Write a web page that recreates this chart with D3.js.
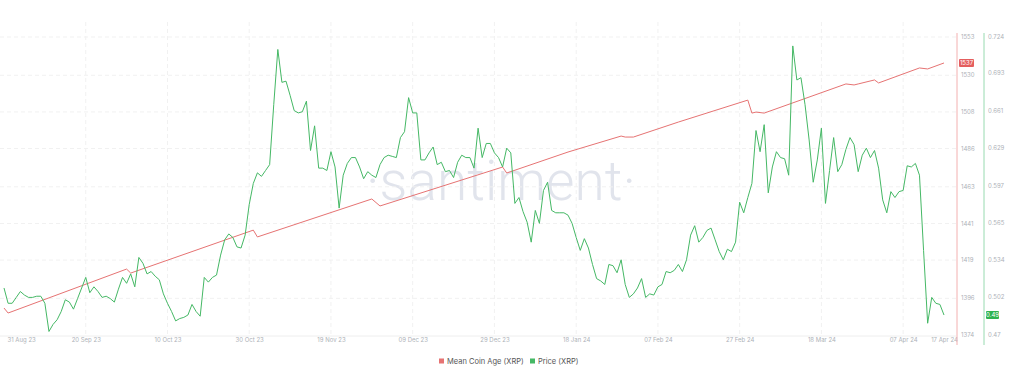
<!DOCTYPE html>
<html>
<head>
<meta charset="utf-8">
<script src="https://cdn.jsdelivr.net/npm/d3@7"></script>
<style>
  body { margin: 0; background: #fff; }
  svg { display: block; font-family: Inter, "Open Sans", sans-serif; }
</style>
</head>
<body>
<div id="chart"></div>
<script>
// daily XRP price, starting 31 Aug 23
var priceStart = '2023-08-31'
var priceValues = [
  0.510, 0.497, 0.497, 0.502, 0.507, 0.504, 0.502, 0.502, 0.503, 0.503,
  0.497, 0.473, 0.479, 0.483, 0.490, 0.500, 0.498, 0.492, 0.501, 0.510,
  0.519, 0.506, 0.511, 0.507, 0.502, 0.503, 0.501, 0.498, 0.509, 0.519,
  0.514, 0.522, 0.511, 0.536, 0.531, 0.522, 0.524, 0.520, 0.517, 0.505,
  0.497, 0.490, 0.482, 0.484, 0.485, 0.487, 0.496, 0.490, 0.486, 0.519,
  0.515, 0.519, 0.521, 0.538, 0.551, 0.556, 0.553, 0.545, 0.544, 0.555,
  0.581, 0.599, 0.608, 0.605, 0.610, 0.615, 0.666, 0.713, 0.685, 0.686,
  0.674, 0.661, 0.659, 0.660, 0.669, 0.627, 0.648, 0.612, 0.612, 0.610,
  0.626, 0.613, 0.578, 0.606, 0.616, 0.621, 0.621, 0.613, 0.603, 0.609,
  0.606, 0.604, 0.615, 0.621, 0.623, 0.622, 0.621, 0.638, 0.643, 0.672,
  0.659, 0.659, 0.619, 0.619, 0.625, 0.630, 0.615, 0.617, 0.609, 0.610,
  0.604, 0.617, 0.623, 0.621, 0.621, 0.612, 0.646, 0.621, 0.633, 0.633,
  0.625, 0.621, 0.613, 0.629, 0.625, 0.582, 0.587, 0.575, 0.566, 0.549,
  0.576, 0.565, 0.593, 0.600, 0.576, 0.574, 0.574, 0.574, 0.572, 0.565,
  0.553, 0.542, 0.552, 0.544, 0.530, 0.518, 0.516, 0.513, 0.530, 0.529,
  0.523, 0.534, 0.513, 0.502, 0.505, 0.510, 0.518, 0.502, 0.505, 0.504,
  0.511, 0.513, 0.524, 0.523, 0.525, 0.530, 0.524, 0.534, 0.555, 0.563,
  0.549, 0.553, 0.559, 0.561, 0.551, 0.541, 0.534, 0.543, 0.541, 0.549,
  0.583, 0.574, 0.587, 0.599, 0.644, 0.626, 0.649, 0.591, 0.613, 0.626,
  0.621, 0.620, 0.606, 0.716, 0.687, 0.689, 0.666, 0.636, 0.600, 0.619,
  0.646, 0.582, 0.610, 0.638, 0.609, 0.615, 0.628, 0.638, 0.632, 0.609,
  0.623, 0.629, 0.621, 0.627, 0.612, 0.585, 0.574, 0.592, 0.587, 0.592,
  0.593, 0.614, 0.613, 0.616, 0.606, 0.542, 0.480, 0.502, 0.497, 0.496,
  0.487
]

// mean coin age, read at the corners of the line
var coinAgeDates = [
  '2023-08-31', '2023-09-01', '2023-09-30', '2023-10-01', '2023-10-31', '2023-11-01',
  '2023-11-29', '2023-12-01', '2023-12-31', '2024-01-01', '2024-01-16', '2024-01-29',
  '2024-01-30', '2024-02-01', '2024-02-12', '2024-02-29', '2024-03-01', '2024-03-02',
  '2024-03-04', '2024-03-24', '2024-03-26', '2024-03-27', '2024-03-31', '2024-04-01',
  '2024-04-11', '2024-04-13', '2024-04-17'
]
var coinAgeValues = [
  1390.2, 1387.2, 1413.6, 1411.2, 1437.0, 1432.9,
  1455.7, 1451.5, 1474.9, 1471.3, 1483.9, 1493.5,
  1492.9, 1492.9, 1501.9, 1515.1, 1507.3, 1507.9,
  1507.3, 1524.8, 1524.2, 1524.8, 1527.2, 1525.4,
  1534.4, 1533.8, 1537.4
]

var dateTicks = [
  '2023-08-31', '2023-09-20', '2023-10-10', '2023-10-30', '2023-11-19', '2023-12-09',
  '2023-12-29', '2024-01-18', '2024-02-07', '2024-02-27', '2024-03-18', '2024-04-07', '2024-04-17'
]
var coinAgeTicks = [1374, 1396, 1419, 1441, 1463, 1486, 1508, 1530, 1553]
var priceTicks = [0.470, 0.502, 0.534, 0.565, 0.597, 0.629, 0.661, 0.693, 0.724]
var seriesNames = ['Mean Coin Age (XRP)', 'Price (XRP)']
var seriesColors = ['#e67373', '#45b865']

var parse = d3.utcParse('%Y-%m-%d')
  , start = parse(priceStart)
  , price = priceValues.map(function(v, i) { return { date: d3.utcDay.offset(start, i), value: v } })
  , coinAge = coinAgeDates.map(function(d, i) { return { date: parse(d), value: coinAgeValues[i] } })
  , width = 1012
  , height = 378
  , plotTop = 37
  , plotBottom = 335
  , xScale = d3.scaleUtc()
    .domain([start, parse('2024-04-17')])
    .range([4, 944])
  , ageScale = d3.scaleLinear()
    .domain([1374, 1553])
    .range([plotBottom, plotTop])
  , priceScale = d3.scaleLinear()
    .domain([0.47, 0.7236])
    .range([plotBottom, plotTop])
  , svg = d3.select('#chart').append('svg')
    .attr('width', width)
    .attr('height', height)

// watermark
svg.append('text')
  .attr('x', 501)
  .attr('y', 200)
  .attr('text-anchor', 'middle')
  .style('font-family', 'Roboto, sans-serif')
  .style('font-weight', 300)
  .style('font-size', '55px')
  .style('fill', '#e1e4ec')
  .text('\u00b7santiment\u00b7')

// horizontal grid
svg.append('g').selectAll('line').data(coinAgeTicks.slice(1)).enter().append('line')
  .attr('x1', 0)
  .attr('x2', 956)
  .attr('y1', function(d) { return ageScale(d) })
  .attr('y2', function(d) { return ageScale(d) })
  .attr('stroke', '#f1f1f1')
  .attr('stroke-dasharray', '4,3')

// vertical grid
svg.append('g').selectAll('line').data(dateTicks.slice(1, -1)).enter().append('line')
  .attr('x1', function(d) { return xScale(parse(d)) })
  .attr('x2', function(d) { return xScale(parse(d)) })
  .attr('y1', 22)
  .attr('y2', plotBottom)
  .attr('stroke', '#f1f1f1')
  .attr('stroke-dasharray', '4,3')

// bottom baseline
svg.append('line')
  .attr('x1', 0).attr('x2', 956)
  .attr('y1', plotBottom + 1).attr('y2', plotBottom + 1)
  .attr('stroke', '#eeeeee')

// date labels
var xAxis = d3.axisBottom(xScale)
  .tickValues(dateTicks.map(parse))
  .tickFormat(d3.utcFormat('%d %b %y'))
  .tickSize(0)
  .tickPadding(0)

var gx = svg.append('g')
  .attr('transform', 'translate(0,' + (plotBottom + 3) + ')')
  .call(xAxis)
gx.select('.domain').remove()
gx.selectAll('text')
  .style('font-size', '6px')
  .style('font-family', 'Inter, sans-serif')
  .attr('fill', '#aeb2b8')
gx.select('.tick text').attr('text-anchor', 'start').attr('dx', 3)

// right axes
function rightAxis(scale, ticks, fmt, x, color) {
  var g = svg.append('g').attr('transform', 'translate(' + x + ',0)')
  g.append('line')
    .attr('y1', plotTop - 4).attr('y2', plotBottom + 10)
    .attr('stroke', color)
  g.selectAll('text').data(ticks).enter().append('text')
    .attr('x', 4)
    .attr('y', function(d) { return scale(d) })
    .attr('dy', '0.35em')
    .style('font-size', '6px')
    .attr('fill', '#aeb2b8')
    .text(fmt)
}
rightAxis(ageScale, coinAgeTicks, d3.format('d'), 957, '#f3b0b0')
rightAxis(priceScale, priceTicks, d3.format('.3~f'), 984, '#98dab0')

// lines
svg.append('path')
  .datum(coinAge)
  .attr('fill', 'none')
  .attr('stroke', seriesColors[0])
  .attr('stroke-width', 1)
  .attr('d', d3.line()
    .x(function(d) { return xScale(d.date) })
    .y(function(d) { return ageScale(d.value) }))

svg.append('path')
  .datum(price)
  .attr('fill', 'none')
  .attr('stroke', seriesColors[1])
  .attr('stroke-width', 1)
  .attr('stroke-linejoin', 'round')
  .attr('d', d3.line()
    .x(function(d) { return xScale(d.date) })
    .y(function(d) { return priceScale(d.value) }))

// last value badges
function badge(x, y, w, label, color) {
  svg.append('rect')
    .attr('x', x).attr('y', y - 4)
    .attr('width', w).attr('height', 8)
    .attr('rx', 1)
    .attr('fill', color)
  svg.append('text')
    .attr('x', x + w / 2).attr('y', y)
    .attr('dy', '0.35em')
    .attr('text-anchor', 'middle')
    .style('font-size', '6px')
    .attr('fill', '#fff')
    .text(label)
}
var lastAge = coinAge[coinAge.length - 1]
  , lastPrice = price[price.length - 1]
badge(959, ageScale(lastAge.value), 15, d3.format('d')(lastAge.value), '#e45e5e')
badge(986, priceScale(lastPrice.value), 13, d3.format('.2f')(lastPrice.value), '#2fb34f')

// legend
var legend = svg.append('g').attr('transform', 'translate(439,361)')
var item = legend.selectAll('g').data(seriesNames).enter().append('g')
  .attr('transform', function(d, i) { return 'translate(' + (i * 91) + ',0)' })
item.append('rect')
  .attr('x', 0).attr('y', -2.5)
  .attr('width', 5).attr('height', 5)
  .attr('fill', function(d, i) { return seriesColors[i] })
item.append('text')
  .attr('x', 8)
  .attr('dy', '0.35em')
  .style('font-size', '7.5px')
  .attr('fill', '#555')
  .text(function(d) { return d })
</script>
</body>
</html>
